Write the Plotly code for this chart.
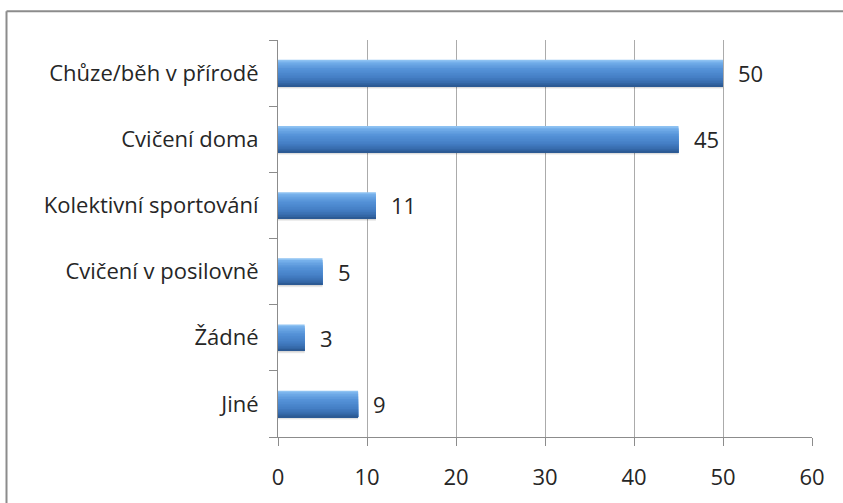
import plotly.graph_objects as go

categories = ["Chůze/běh v přírodě", "Cvičení doma", "Kolektivní sportování",
              "Cvičení v posilovně", "Žádné", "Jiné"]
values = [50, 45, 11, 5, 3, 9]
x_ticks = [0, 10, 20, 30, 40, 50, 60]

# bottom-to-top order for a normal (non reversed) category axis
cats = categories[::-1]
vals = values[::-1]

FONT = "Open Sans"
FS = 22
W = 843
H = 503
ML, MR, MT, MB = 278, 31, 40, 63

fig = go.Figure()

bar_w = 0.4
# soft shadow
for off, a in [(-0.235, 0.07), (-0.22, 0.09)]:
    fig.add_trace(go.Bar(x=vals, y=cats, orientation="h", width=bar_w, offset=off,
                         marker=dict(color=f"rgba(0,0,0,{a})", line=dict(width=0)),
                         hoverinfo="skip", showlegend=False))

# gradient (top light -> bottom dark), layered from full bar downward to avoid seams
stops = [(0.0, (0x9a, 0xcb, 0xf5)), (0.1, (0x74, 0xae, 0xea)), (0.35, (0x55, 0x92, 0xd8)),
         (0.65, (0x45, 0x80, 0xc6)), (0.88, (0x35, 0x69, 0xaa)), (1.0, (0x29, 0x55, 0x8c))]


def col(t):
    for (t0, c0), (t1, c1) in zip(stops[:-1], stops[1:]):
        if t0 <= t <= t1:
            f = (t - t0) / (t1 - t0) if t1 > t0 else 0
            return "rgb(%d,%d,%d)" % tuple(round(a + (b - a) * f) for a, b in zip(c0, c1))
    return "rgb(%d,%d,%d)" % stops[-1][1]


n = 16
sw = bar_w / n
for i in range(n):
    t = (i + 0.5) / n
    top = bar_w / 2 - i * sw
    fig.add_trace(go.Bar(x=vals, y=cats, orientation="h", width=top + bar_w / 2, offset=-bar_w / 2,
                         marker=dict(color=col(t), line=dict(width=0)),
                         hoverinfo="skip", showlegend=False))

# value labels
for v, c in zip(vals, cats):
    fig.add_annotation(x=v, y=c, text=str(v), showarrow=False, xanchor="left", xshift=13,
                       font=dict(family=FONT, size=FS, color="#262626"))

# chart border (left and top visible)
x_left = (6.5 - ML) / (W - ML - MR)
y_top = (H - MB - 11) / (H - MT - MB)
fig.add_shape(type="line", xref="paper", yref="paper", x0=x_left, x1=x_left, y0=y_top, y1=-0.2,
              line=dict(color="#8c8c8c", width=2))
fig.add_shape(type="line", xref="paper", yref="paper", x0=x_left, x1=1.1, y0=y_top, y1=y_top,
              line=dict(color="#8c8c8c", width=2))

fig.update_layout(
    width=W, height=H,
    margin=dict(l=ML, r=MR, t=MT, b=MB),
    barmode="overlay",
    paper_bgcolor="white", plot_bgcolor="white",
    font=dict(family=FONT, size=FS, color="#262626"),
)
fig.update_xaxes(range=[0, 60], tickvals=x_ticks, showgrid=True, gridcolor="#ababab", gridwidth=1,
                 showline=True, linecolor="#8c8c8c", linewidth=1, ticks="outside", ticklen=8,
                 tickcolor="#8c8c8c", zeroline=False, ticklabelstandoff=13,
                 tickfont=dict(family=FONT, size=FS, color="#262626"))
fig.update_yaxes(categoryorder="array", categoryarray=cats, showgrid=False, showline=True,
                 linecolor="#8c8c8c", linewidth=1, ticks="outside", ticklen=8, tickcolor="#8c8c8c",
                 tickson="boundaries", ticklabelstandoff=14,
                 tickfont=dict(family=FONT, size=FS, color="#262626"))

fig.write_html("out.html")
